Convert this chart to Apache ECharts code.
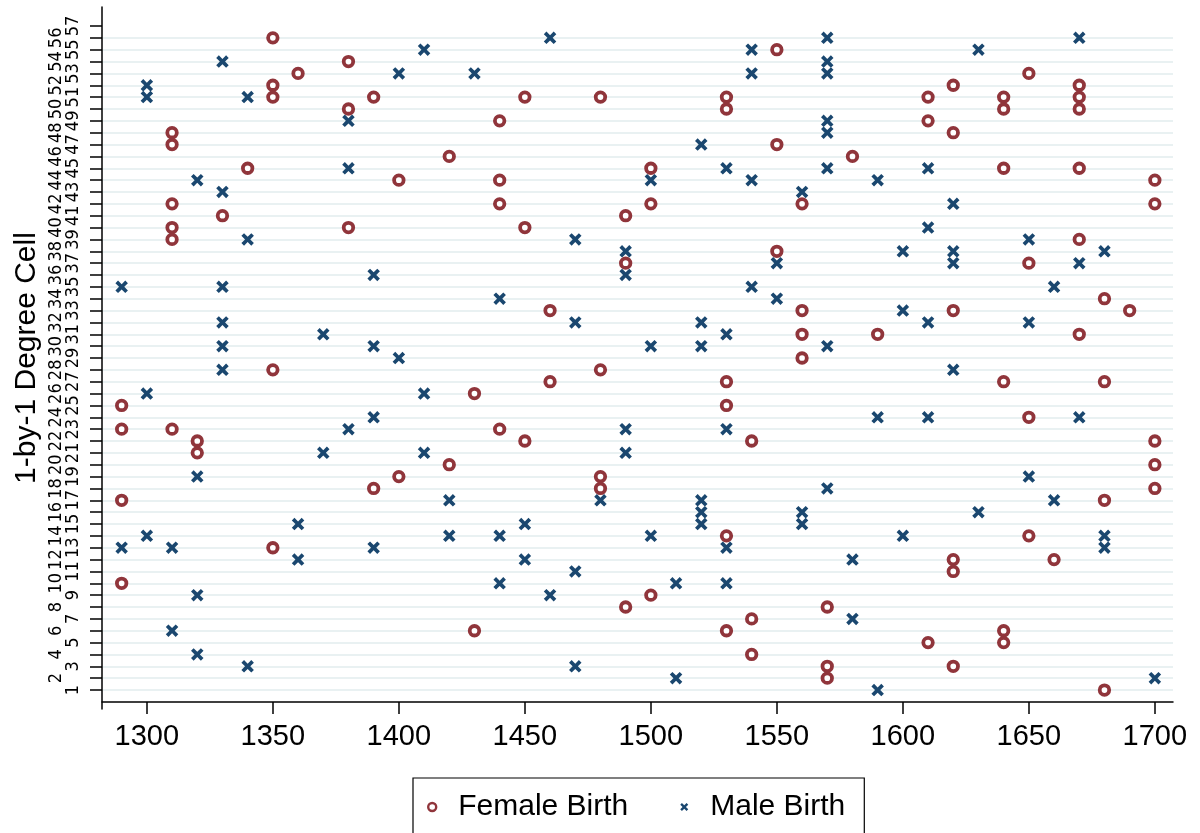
<!DOCTYPE html>
<html>
<head>
<meta charset="utf-8">
<script src="https://cdn.jsdelivr.net/npm/echarts@6/dist/echarts.min.js"></script>
<style>
  html, body { margin: 0; padding: 0; background: #fff; }
  #chart { width: 1200px; height: 833px; }
</style>
</head>
<body>
<div id="chart"></div>
<script>
// Tick labels
const yearTicks = [1300, 1350, 1400, 1450, 1500, 1550, 1600, 1650, 1700];
const cellTicks = [1, 2, 3, 4, 5, 6, 7, 8, 9, 10, 11, 12, 13, 14, 15, 16, 17, 18, 19, 20,
  21, 22, 23, 24, 25, 26, 27, 28, 29, 30, 31, 32, 33, 34, 35, 36, 37, 38, 39, 40,
  41, 42, 43, 44, 45, 46, 47, 48, 49, 50, 51, 52, 53, 54, 55, 56, 57];

// Births: [year, 1-by-1 degree cell]
const femaleBirths = [
  [1290, 25], [1290, 23], [1290, 17], [1290, 10],
  [1310, 48], [1310, 47], [1310, 42], [1310, 40], [1310, 39], [1310, 23],
  [1320, 22], [1320, 21], [1330, 41], [1340, 45],
  [1350, 56], [1350, 52], [1350, 51], [1350, 28], [1350, 13], [1360, 53],
  [1380, 54], [1380, 50], [1380, 40], [1390, 51], [1390, 18],
  [1400, 44], [1400, 19], [1420, 46], [1420, 20], [1430, 26], [1430, 6],
  [1440, 49], [1440, 44], [1440, 42], [1440, 23], [1450, 51], [1450, 40], [1450, 22],
  [1460, 33], [1460, 27], [1480, 51], [1480, 28], [1480, 19], [1480, 18],
  [1490, 41], [1490, 37], [1490, 8], [1500, 45], [1500, 42], [1500, 9],
  [1530, 51], [1530, 50], [1530, 27], [1530, 25], [1530, 14], [1530, 6],
  [1540, 22], [1540, 7], [1540, 4], [1550, 55], [1550, 47], [1550, 38],
  [1560, 42], [1560, 33], [1560, 31], [1560, 29], [1570, 8], [1570, 3], [1570, 2],
  [1580, 46], [1590, 31], [1610, 51], [1610, 49], [1610, 5],
  [1620, 52], [1620, 48], [1620, 33], [1620, 12], [1620, 11], [1620, 3],
  [1640, 51], [1640, 50], [1640, 45], [1640, 27], [1640, 6], [1640, 5],
  [1650, 53], [1650, 37], [1650, 24], [1650, 14], [1660, 12],
  [1670, 52], [1670, 51], [1670, 50], [1670, 45], [1670, 39], [1670, 31],
  [1680, 34], [1680, 27], [1680, 17], [1680, 1], [1690, 33],
  [1700, 44], [1700, 42], [1700, 22], [1700, 20], [1700, 18]
];
const maleBirths = [
  [1290, 35], [1290, 13], [1300, 52], [1300, 51], [1300, 26], [1300, 14],
  [1310, 13], [1310, 6], [1320, 44], [1320, 19], [1320, 9], [1320, 4],
  [1330, 54], [1330, 43], [1330, 35], [1330, 32], [1330, 30], [1330, 28],
  [1340, 51], [1340, 39], [1340, 3], [1360, 15], [1360, 12], [1370, 31], [1370, 21],
  [1380, 49], [1380, 45], [1380, 23], [1390, 36], [1390, 30], [1390, 24], [1390, 13],
  [1400, 53], [1400, 29], [1410, 55], [1410, 26], [1410, 21], [1420, 17], [1420, 14],
  [1430, 53], [1440, 34], [1440, 14], [1440, 10], [1450, 15], [1450, 12],
  [1460, 56], [1460, 9], [1470, 39], [1470, 32], [1470, 11], [1470, 3], [1480, 17],
  [1490, 38], [1490, 36], [1490, 23], [1490, 21], [1500, 44], [1500, 30], [1500, 14],
  [1510, 10], [1510, 2], [1520, 47], [1520, 32], [1520, 30], [1520, 17], [1520, 16], [1520, 15],
  [1530, 45], [1530, 31], [1530, 23], [1530, 13], [1530, 10],
  [1540, 55], [1540, 53], [1540, 44], [1540, 35], [1550, 37], [1550, 34],
  [1560, 43], [1560, 16], [1560, 15],
  [1570, 56], [1570, 54], [1570, 53], [1570, 49], [1570, 48], [1570, 45], [1570, 30], [1570, 18],
  [1580, 12], [1580, 7], [1590, 44], [1590, 24], [1590, 1],
  [1600, 38], [1600, 33], [1600, 14], [1610, 45], [1610, 40], [1610, 32], [1610, 24],
  [1620, 42], [1620, 38], [1620, 37], [1620, 28], [1630, 55], [1630, 16],
  [1650, 39], [1650, 32], [1650, 19], [1660, 35], [1660, 17],
  [1670, 56], [1670, 37], [1670, 24], [1680, 38], [1680, 14], [1680, 13], [1700, 2]
];

const FONT = '"Liberation Sans", Arial, Helvetica, sans-serif';
const NARROW = '"Liberation Sans Narrow", "Arial Narrow", "DejaVu Sans Condensed", "Liberation Sans", sans-serif';
const MAROON = '#90353B';
const NAVY = '#1A476F';
// Filled "x" marker with square-cut arms
const CROSS = 'path://M2.1,0 L5,2.9 L7.9,0 L10,2.1 L7.1,5 L10,7.9 L7.9,10 L5,7.1 L2.1,10 L0,7.9 L2.9,5 L0,2.1 Z';

const oddCells = cellTicks.filter(c => c % 2 === 1);
const evenCells = cellTicks.filter(c => c % 2 === 0);
const gridCells = cellTicks.filter(c => c < 57);

const axisLineStyle = { color: '#000', width: 1.5 };
const yRange = { min: -0.6, max: 58.6 };
const plain = v => String(v);

const chart = echarts.init(document.getElementById('chart'), null, { renderer: 'canvas' });
chart.setOption({
  animation: false,
  backgroundColor: '#fff',
  grid: { left: 102, right: 27, top: 7, bottom: 124, outerBoundsMode: 'none' },
  xAxis: {
    type: 'value', min: 1282.2, max: 1707.2,
    axisLine: { show: true, lineStyle: axisLineStyle },
    axisTick: { show: true, length: 12, customValues: yearTicks, lineStyle: axisLineStyle },
    axisLabel: { customValues: yearTicks, formatter: plain, fontSize: 29, margin: 13, color: '#000', fontFamily: FONT },
    splitLine: { show: false }
  },
  yAxis: [
    {
      type: 'value', ...yRange, position: 'left',
      name: '1-by-1 Degree Cell', nameLocation: 'middle', nameGap: 60, nameRotate: 90,
      nameTextStyle: { fontSize: 30, color: '#000', fontFamily: FONT },
      axisLine: { show: true, lineStyle: axisLineStyle },
      axisTick: { show: true, length: 12, customValues: cellTicks, lineStyle: axisLineStyle },
      axisLabel: { customValues: oddCells, formatter: plain, rotate: 90, fontSize: 18, margin: 20, color: '#000', fontFamily: NARROW },
      splitLine: { show: false }
    },
    {
      type: 'value', ...yRange, position: 'left',
      axisLine: { show: false },
      axisTick: { show: false, customValues: gridCells },
      axisLabel: { customValues: evenCells, formatter: plain, rotate: 90, fontSize: 18, margin: 37, color: '#000', fontFamily: NARROW },
      splitLine: { show: true, lineStyle: { color: '#e9f1f2', width: 2 } }
    }
  ],
  legend: {
    left: 413, top: 778, orient: 'horizontal',
    padding: [14, 19, 30, 14], itemGap: 52, itemWidth: 16, itemHeight: 8,
    borderColor: '#000', borderWidth: 1.2, borderRadius: 0, backgroundColor: '#fff',
    selectedMode: false,
    textStyle: { fontSize: 30, color: '#000', fontFamily: FONT, lineHeight: 30, padding: [0, 0, 0, 13] },
    data: [
      { name: 'Female Birth', itemStyle: { borderWidth: 2.4 } },
      { name: 'Male Birth' }
    ]
  },
  series: [
    {
      name: 'Female Birth', type: 'scatter', data: femaleBirths,
      symbol: 'circle', symbolSize: 9.5,
      itemStyle: { color: '#fff', borderColor: MAROON, borderWidth: 3.8, opacity: 1 },
      z: 3
    },
    {
      name: 'Male Birth', type: 'scatter', data: maleBirths,
      symbol: CROSS, symbolSize: 12.5,
      itemStyle: { color: NAVY, opacity: 1 },
      z: 4
    }
  ]
});
</script>
</body>
</html>
